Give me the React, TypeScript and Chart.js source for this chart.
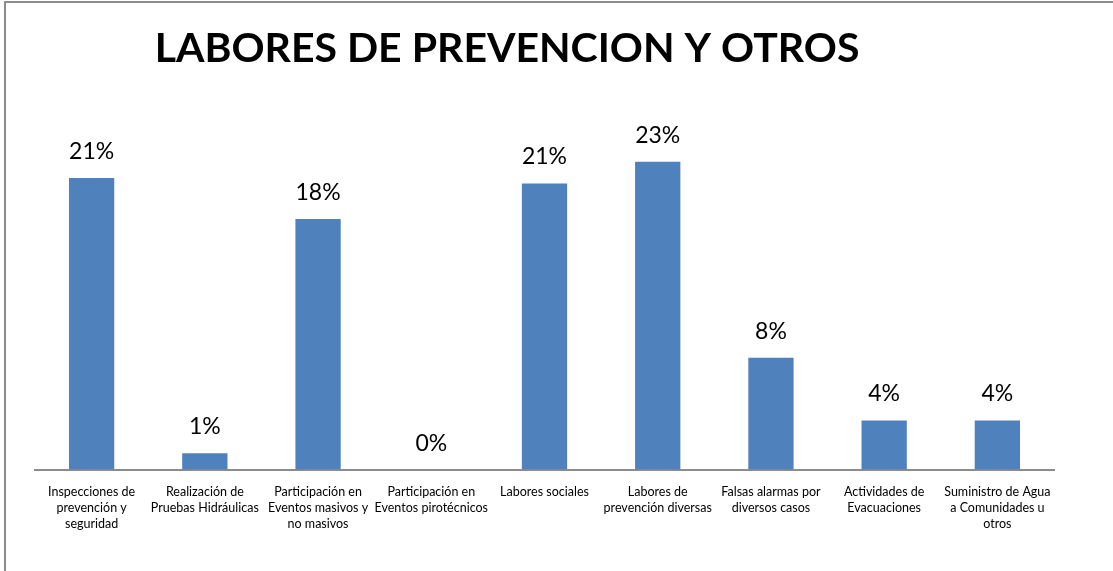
import { useEffect, useRef } from "react";
import { Chart, registerables } from "chart.js";

Chart.register(...registerables);

const chartTitle = "LABORES DE PREVENCION Y OTROS";

const categories: string[][] = [
  ["Inspecciones de", "prevención y", "seguridad"],
  ["Realización de", "Pruebas Hidráulicas"],
  ["Participación en", "Eventos masivos y", "no masivos"],
  ["Participación en", "Eventos pirotécnicos"],
  ["Labores sociales"],
  ["Labores de", "prevención diversas"],
  ["Falsas alarmas por", "diversos casos"],
  ["Actividades de", "Evacuaciones"],
  ["Suministro de Agua", "a Comunidades u", "otros"],
];

// percentage share of each activity (labels show rounded values)
const percentages: number[] = [21.4, 1.2, 18.4, 0, 21.0, 22.6, 8.2, 3.6, 3.6];

const yMin = 0;
const yMax = 25;

const FONT = "Lato, 'Open Sans', 'DejaVu Sans', sans-serif";

export default function App() {
  const canvasRef = useRef<HTMLCanvasElement | null>(null);

  useEffect(() => {
    const canvas = canvasRef.current;
    if (!canvas) return;

    const titlePlugin = {
      id: "excelTitle",
      afterDraw(chart: any) {
        const ctx = chart.ctx as CanvasRenderingContext2D;
        ctx.save();
        ctx.font = `bold 41px ${FONT}`;
        ctx.fillStyle = "#000000";
        ctx.textAlign = "center";
        ctx.textBaseline = "alphabetic";
        ctx.fillText(chartTitle, 507, 62);
        ctx.restore();
      },
    };

    const barLabelPlugin = {
      id: "barLabels",
      afterDatasetsDraw(chart: any) {
        const ctx = chart.ctx as CanvasRenderingContext2D;
        const meta = chart.getDatasetMeta(0);
        ctx.save();
        ctx.font = `23px ${FONT}`;
        ctx.fillStyle = "#000000";
        ctx.textAlign = "center";
        ctx.textBaseline = "alphabetic";
        meta.data.forEach((bar: any, i: number) => {
          ctx.fillText(`${Math.round(percentages[i])}%`, bar.x, bar.y - 19);
        });
        ctx.restore();
      },
    };

    const chart = new Chart(canvas, {
      type: "bar",
      data: {
        labels: categories,
        datasets: [
          {
            data: percentages,
            backgroundColor: "#4F81BD",
            borderWidth: 0,
            barPercentage: 0.4,
            categoryPercentage: 1,
          },
        ],
      },
      options: {
        responsive: false,
        animation: false,
        events: [],
        layout: { padding: { left: 35, right: 59, top: 129, bottom: 0 } },
        plugins: {
          legend: { display: false },
          tooltip: { enabled: false },
          title: { display: false },
        },
        scales: {
          x: {
            grid: { display: false, drawTicks: false, tickLength: 0 },
            border: { display: true, color: "#8c8c8c", width: 2 },
            ticks: {
              color: "#000000",
              font: { family: FONT, size: 12.5, lineHeight: 1.26 },
              padding: 15,
              maxRotation: 0,
              minRotation: 0,
              autoSkip: false,
            },
            afterFit: (scale: any) => {
              scale.height = 101.5;
            },
          },
          y: { display: false, min: yMin, max: yMax },
        },
      },
      plugins: [titlePlugin, barLabelPlugin],
    });

    return () => chart.destroy();
  }, []);

  return (
    <div
      style={{
        position: "fixed",
        left: 0,
        top: 0,
        width: 1113,
        height: 571,
        overflow: "hidden",
        background: "#ffffff",
      }}
    >
      <div
        style={{
          position: "absolute",
          left: 4,
          top: 1,
          width: 1300,
          height: 800,
          borderTop: "2px solid #8c8c8c",
          borderLeft: "2px solid #8c8c8c",
          boxSizing: "border-box",
        }}
      />
      <canvas
        ref={canvasRef}
        width={1113}
        height={571}
        style={{ position: "absolute", left: 0, top: 0, display: "block" }}
      />
    </div>
  );
}
